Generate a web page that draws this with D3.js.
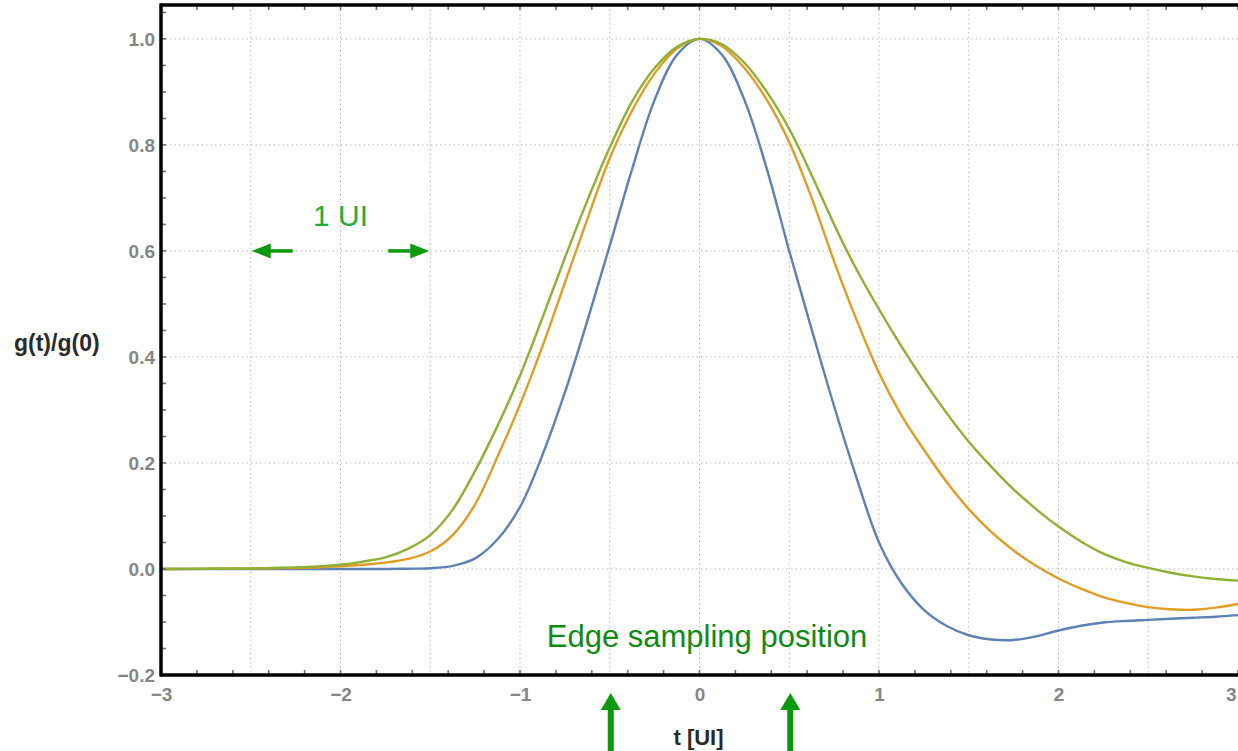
<!DOCTYPE html>
<html>
<head>
<meta charset="utf-8">
<script src="https://cdn.jsdelivr.net/npm/d3@7"></script>
<style>
  html, body { margin: 0; padding: 0; background: #fff; }
  svg { display: block; font-family: Arial, "Liberation Sans", sans-serif; }
</style>
</head>
<body>
<svg id="chart" width="1238" height="751"></svg>
<script>
// sample positions in UI, 1/8 UI apart
const tValues = [-3, -2.875, -2.75, -2.625, -2.5, -2.375, -2.25, -2.125, -2, -1.875, -1.75, -1.625,
  -1.5, -1.375, -1.25, -1.125, -1, -0.875, -0.75, -0.625, -0.5, -0.375, -0.25, -0.125,
  0, 0.125, 0.25, 0.375, 0.5, 0.625, 0.75, 0.875, 1, 1.125, 1.25, 1.375,
  1.5, 1.625, 1.75, 1.875, 2, 2.125, 2.25, 2.375, 2.5, 2.625, 2.75, 2.875, 3];

const blueValues = [0, 0, 0, 0, 0, 0, 0, 0, 0, 0, 0, 0.0005,
  0.0015, 0.006, 0.02, 0.056, 0.117, 0.215, 0.333, 0.468, 0.61, 0.755, 0.885, 0.97,
  1, 0.97, 0.885, 0.755, 0.6, 0.452, 0.307, 0.172, 0.05, -0.027, -0.077, -0.107,
  -0.125, -0.133, -0.134, -0.127, -0.116, -0.107, -0.101, -0.098, -0.096, -0.094, -0.092, -0.09, -0.087];

const orangeValues = [0, 0, 0.0003, 0.0006, 0.001, 0.0015, 0.002, 0.003, 0.005, 0.008, 0.012, 0.019,
  0.033, 0.064, 0.122, 0.212, 0.31, 0.42, 0.54, 0.66, 0.775, 0.865, 0.935, 0.982,
  1, 0.986, 0.945, 0.885, 0.805, 0.7, 0.58, 0.47, 0.37, 0.29, 0.225, 0.165,
  0.113, 0.07, 0.035, 0.006, -0.018, -0.037, -0.053, -0.064, -0.072, -0.076, -0.077, -0.073, -0.066];

const greenValues = [0, 0.0002, 0.0005, 0.0008, 0.001, 0.002, 0.003, 0.005, 0.008, 0.014, 0.022, 0.038,
  0.064, 0.112, 0.185, 0.27, 0.365, 0.474, 0.587, 0.695, 0.795, 0.882, 0.945, 0.985,
  1, 0.99, 0.955, 0.9, 0.83, 0.743, 0.65, 0.565, 0.49, 0.42, 0.355, 0.295,
  0.24, 0.193, 0.15, 0.113, 0.08, 0.052, 0.029, 0.013, 0.002, -0.007, -0.014, -0.019, -0.022];

const xTickLabels = [-3, -2, -1, 0, 1, 2, 3];
const yTickLabels = [-0.2, 0.0, 0.2, 0.4, 0.6, 0.8, 1.0];
const xGridValues = [-2.5, -2, -1.5, -1, -0.5, 0, 0.5, 1, 1.5, 2, 2.5];

const series = [
  { name: 'blue', values: blueValues, color: '#5e81b5' },
  { name: 'orange', values: orangeValues, color: '#e19c24' },
  { name: 'green', values: greenValues, color: '#8fb032' }
];

const svg = d3.select('#chart');
const plotLeft = 161, plotRight = 1238, plotTop = 5, plotBottom = 675;

const x = d3.scaleLinear().domain([-3, 3]).range([plotLeft, plotRight]);
const y = d3.scaleLinear().domain([-0.2, 1.064]).range([plotBottom, plotTop]);

// dotted grid
svg.append('g')
  .selectAll('line')
  .data(xGridValues)
  .join('line')
  .attr('x1', d => x(d)).attr('x2', d => x(d))
  .attr('y1', plotTop).attr('y2', plotBottom)
  .attr('stroke', '#b8b8b8')
  .attr('stroke-width', 1)
  .attr('stroke-dasharray', '1.5,3');

svg.append('g')
  .selectAll('line')
  .data(yTickLabels.filter(d => d > -0.2))
  .join('line')
  .attr('x1', plotLeft).attr('x2', plotRight)
  .attr('y1', d => y(d)).attr('y2', d => y(d))
  .attr('stroke', '#b8b8b8')
  .attr('stroke-width', 1)
  .attr('stroke-dasharray', '1.5,3');

// curves
const line = d3.line()
  .x((d, i) => x(tValues[i]))
  .y(d => y(d))
  .curve(d3.curveCatmullRom.alpha(0.5));

svg.append('g')
  .selectAll('path')
  .data(series)
  .join('path')
  .attr('d', d => line(d.values))
  .attr('fill', 'none')
  .attr('stroke', d => d.color)
  .attr('stroke-width', 2.4);

// axes: labels only, gray
const xTicks = d3.range(-3, 3.001, 0.2);
const yTicks = d3.range(-0.2, 1.051, 0.05);

svg.append('g')
  .attr('transform', `translate(0,${plotBottom})`)
  .call(d3.axisBottom(x).tickValues(xTickLabels).tickSize(0).tickPadding(13)
    .tickFormat(d => d3.format('d')(d).replace('-', '\u2212')))
  .call(g => g.select('.domain').remove())
  .selectAll('text')
  .style('fill', '#858585')
  .style('font-size', '19px')
  .style('font-weight', 'bold')
  .style('font-family', 'Arial, "Liberation Sans", sans-serif')
  .attr('text-anchor', d => d === 3 ? 'end' : 'middle')
  .attr('dx', d => d === 3 ? -2 : 0);

svg.append('g')
  .attr('transform', `translate(${plotLeft - 6},0)`)
  .call(d3.axisLeft(y).tickValues(yTickLabels).tickSize(0).tickPadding(0)
    .tickFormat(d => d3.format('.1f')(d).replace('-', '\u2212')))
  .call(g => g.select('.domain').remove())
  .selectAll('text')
  .style('fill', '#858585')
  .style('font-size', '19px')
  .style('font-weight', 'bold')
  .style('font-family', 'Arial, "Liberation Sans", sans-serif');

// small inward tick marks
const tickColor = '#707070';
svg.append('g').selectAll('line').data(xTicks).join('line')
  .attr('x1', d => x(d)).attr('x2', d => x(d))
  .attr('y1', plotBottom).attr('y2', plotBottom - 5)
  .attr('stroke', tickColor).attr('stroke-width', 1.6);
svg.append('g').selectAll('line').data(xTicks).join('line')
  .attr('x1', d => x(d)).attr('x2', d => x(d))
  .attr('y1', plotTop).attr('y2', plotTop + 5)
  .attr('stroke', tickColor).attr('stroke-width', 1.6);
svg.append('g').selectAll('line').data(yTicks).join('line')
  .attr('x1', plotLeft).attr('x2', plotLeft + 5)
  .attr('y1', d => y(d)).attr('y2', d => y(d))
  .attr('stroke', tickColor).attr('stroke-width', 1.6);

// frame lines
svg.append('line').attr('x1', plotLeft - 1).attr('x2', plotRight).attr('y1', plotBottom).attr('y2', plotBottom)
  .attr('stroke', '#000').attr('stroke-width', 3.5);
svg.append('line').attr('x1', plotLeft - 1).attr('x2', plotRight).attr('y1', plotTop).attr('y2', plotTop)
  .attr('stroke', '#000').attr('stroke-width', 3.5);
svg.append('line').attr('x1', plotLeft).attr('x2', plotLeft).attr('y1', plotTop - 1.5).attr('y2', plotBottom + 1.5)
  .attr('stroke', '#000').attr('stroke-width', 3.5);

// axis titles
svg.append('text')
  .attr('x', 14).attr('y', 351)
  .style('font-size', '23px').style('font-weight', 'bold').style('fill', '#2a2a2a')
  .text('g(t)/g(0)');
svg.append('text')
  .attr('x', x(0) - 1).attr('y', 745)
  .attr('text-anchor', 'middle')
  .style('font-size', '22px').style('font-weight', 'bold').style('fill', '#2a2a2a')
  .text('t [UI]');

// annotations
const darkGreen = '#0f8a12';
const arrowGreen = '#0b9a0b';

svg.append('text')
  .attr('x', x(-2)).attr('y', 226)
  .attr('text-anchor', 'middle')
  .style('font-size', '30px').style('fill', '#22ad3e')
  .text('1 UI');

// horizontal 1 UI arrows
function hArrow(tipX, tailX, yy) {
  const dir = tipX < tailX ? 1 : -1;
  const headLen = 19, headHalf = 7.5;
  svg.append('line')
    .attr('x1', tailX).attr('x2', tipX + dir * headLen * 0.8)
    .attr('y1', yy).attr('y2', yy)
    .attr('stroke', arrowGreen).attr('stroke-width', 3.5);
  svg.append('path')
    .attr('d', `M${tipX},${yy} L${tipX + dir * headLen},${yy - headHalf} L${tipX + dir * headLen},${yy + headHalf} Z`)
    .attr('fill', arrowGreen);
}
hArrow(x(-2.5) + 1, x(-2.5) + 42, y(0.6));
hArrow(x(-1.5) - 1, x(-1.5) - 42, y(0.6));

svg.append('text')
  .attr('x', 707).attr('y', 647)
  .attr('text-anchor', 'middle')
  .style('font-size', '31px').style('fill', darkGreen)
  .text('Edge sampling position');

// vertical arrows at edge sampling positions
[-0.5, 0.5].forEach(t => {
  const cx = x(t) + 1;
  svg.append('rect')
    .attr('x', cx - 3).attr('y', 706).attr('width', 6).attr('height', 50)
    .attr('fill', arrowGreen);
  svg.append('path')
    .attr('d', `M${cx},693 L${cx - 10},710 L${cx + 10},710 Z`)
    .attr('fill', arrowGreen);
});
</script>
</body>
</html>
